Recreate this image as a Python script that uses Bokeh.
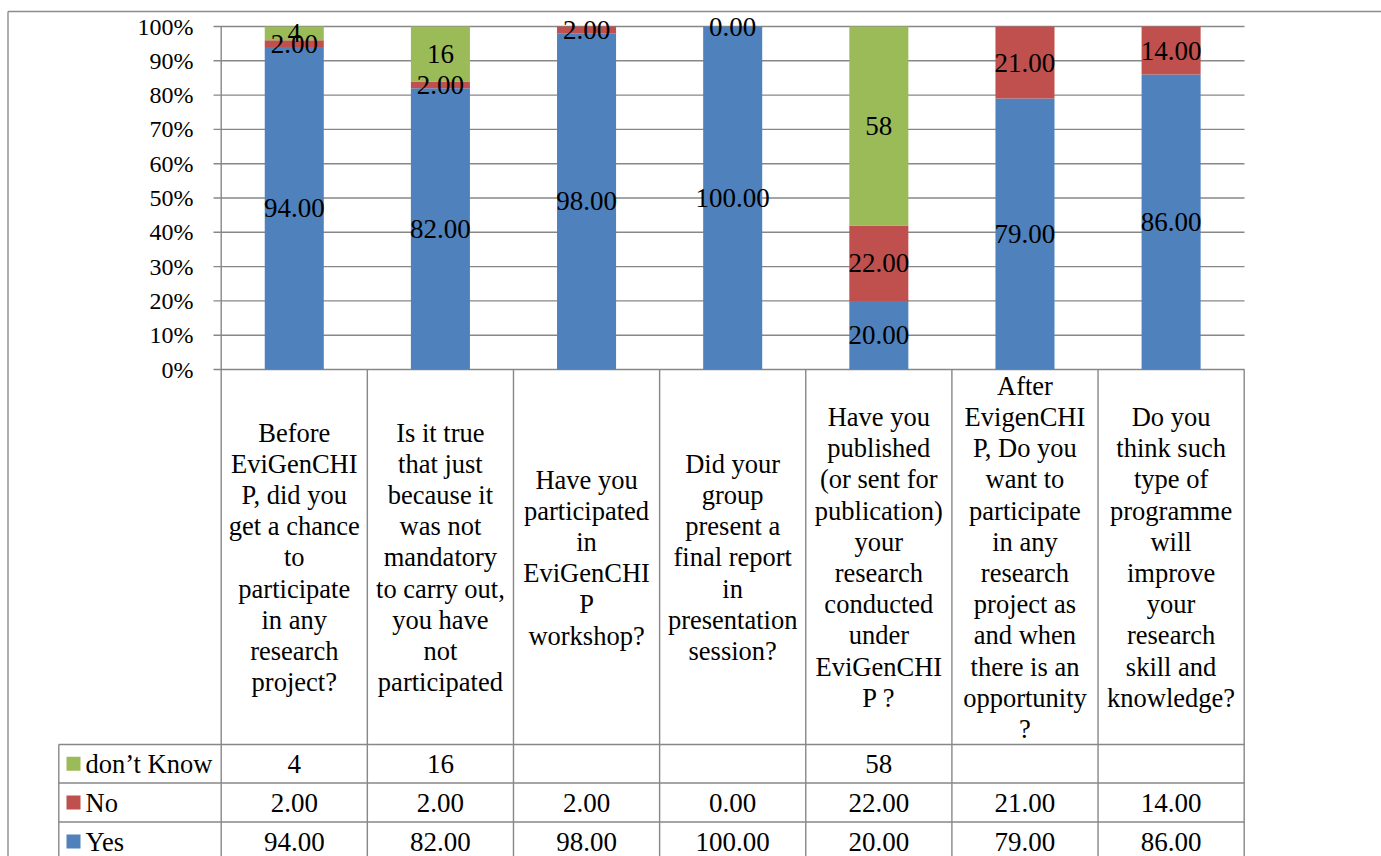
from bokeh.plotting import figure
from bokeh.models import Range1d, ColumnDataSource
from bokeh.core.properties import value
from bokeh.embed import file_html
from bokeh.resources import INLINE

# ---------------- data ----------------
categories = [
    "Before\nEviGenCHI\nP, did you\nget a chance\nto\nparticipate\nin any\nresearch\nproject?",
    "Is it true\nthat just\nbecause it\nwas not\nmandatory\nto carry out,\nyou have\nnot\nparticipated",
    "Have you\nparticipated\nin\nEviGenCHI\nP\nworkshop?",
    "Did your\ngroup\npresent a\nfinal report\nin\npresentation\nsession?",
    "Have you\npublished\n(or sent for\npublication)\nyour\nresearch\nconducted\nunder\nEviGenCHI\nP ?",
    "After\nEvigenCHI\nP, Do you\nwant to\nparticipate\nin any\nresearch\nproject as\nand when\nthere is an\nopportunity\n?",
    "Do you\nthink such\ntype of\nprogramme\nwill\nimprove\nyour\nresearch\nskill and\nknowledge?",
]
yes = [94.0, 82.0, 98.0, 100.0, 20.0, 79.0, 86.0]
no = [2.0, 2.0, 2.0, 0.0, 22.0, 21.0, 14.0]
dont_know = [4, 16, None, None, 58, None, None]
series_names = ["Yes", "No", "don\u2019t Know"]
colors = ["#4F81BD", "#C0504D", "#9BBB59"]
y_ticks = [0, 10, 20, 30, 40, 50, 60, 70, 80, 90, 100]
y_tick_labels = [f"{t}%" for t in y_ticks]

# ---------------- layout (pixels) ----------------
W, H = 1381, 856
PL = 220.7          # plot-area left (px)
CW = 146.14         # column width (px)
Y0 = 369.0          # 0% line (px)
PPU = 3.43          # px per percent
FONT = "Liberation Serif"
GRID = "#878787"

def xd(px):
    return (px - PL) / CW

def yd(py):
    return (Y0 - py) / PPU

p = figure(width=W, height=H, output_backend="svg", toolbar_location=None,
           x_range=Range1d(xd(0), xd(W)), y_range=Range1d(yd(H), yd(0)),
           min_border=0, min_border_left=0, min_border_right=0,
           min_border_top=0, min_border_bottom=0)
p.axis.visible = False
p.grid.visible = False
p.outline_line_color = None
p.background_fill_color = "white"
p.border_fill_color = "white"

n = len(categories)
centers = [i + 0.5 for i in range(n)]

# 100% stacked shares
dk_vals = [d if d is not None else 0 for d in dont_know]
totals = [y + q + d for y, q, d in zip(yes, no, dk_vals)]
yes_p = [v / t * 100 for v, t in zip(yes, totals)]
no_p = [v / t * 100 for v, t in zip(no, totals)]
dk_p = [v / t * 100 for v, t in zip(dk_vals, totals)]

# gridlines + tick marks
p.segment(x0=[xd(213)] * len(y_ticks), x1=[xd(1244)] * len(y_ticks),
          y0=y_ticks, y1=y_ticks, line_color=GRID, line_width=1.4)

# bars
src = ColumnDataSource(dict(x=centers, Yes=yes_p, No=no_p, DK=dk_p))
p.vbar_stack(["Yes", "No", "DK"], x="x", width=0.404, color=colors,
             line_color=None, source=src)

# data labels
lx, ly, lt = [], [], []
for i in range(n):
    lx.append(centers[i]); ly.append(yes_p[i] / 2); lt.append(f"{yes[i]:.2f}")
    lx.append(centers[i]); ly.append(yes_p[i] + no_p[i] / 2); lt.append(f"{no[i]:.2f}")
    if dont_know[i] is not None:
        lx.append(centers[i]); ly.append(yes_p[i] + no_p[i] + dk_p[i] / 2)
        lt.append(f"{dont_know[i]}")
p.text(x=lx, y=ly, text=lt, text_font=value(FONT), text_font_size="27px",
       text_align="center", text_baseline="middle", text_color="black")

# y tick labels
p.text(x=[xd(193)] * len(y_ticks), y=y_ticks, text=y_tick_labels,
       text_font=value(FONT), text_font_size="24px", text_align="right",
       text_baseline="middle", text_color="black")

# axis line (extends through table)
p.segment(x0=[0], x1=[0], y0=[100], y1=[yd(H)], line_color=GRID, line_width=1.4)

# table vertical lines
p.segment(x0=list(range(1, n + 1)), x1=list(range(1, n + 1)),
          y0=[0] * n, y1=[yd(H)] * n, line_color=GRID, line_width=1.4)
# legend column left border
p.segment(x0=[xd(58.3)], x1=[xd(58.3)], y0=[yd(744)], y1=[yd(H)],
          line_color=GRID, line_width=1.4)
# table horizontal lines
row_lines = [744, 782.5, 821.5]
p.segment(x0=[xd(58.3)] * 3, x1=[n] * 3, y0=[yd(r) for r in row_lines],
          y1=[yd(r) for r in row_lines], line_color=GRID, line_width=1.4)

# outer border
p.segment(x0=[xd(7.5), xd(7.5)], x1=[xd(7.5), xd(W)],
          y0=[yd(11), yd(11)], y1=[yd(H), yd(11)],
          line_color="#8C8C8C", line_width=1.4)

# category labels
p.text(x=centers, y=[yd(557)] * n, text=categories, text_font=value(FONT),
       text_font_size="26.5px", text_align="center", text_baseline="middle",
       text_line_height=1.04, text_color="black")

# table rows: don't know, No, Yes
row_centers = [763.2, 802, 841]
row_series = [dont_know, no, yes]
row_fmt = [lambda v: "" if v is None else f"{v}",
           lambda v: f"{v:.2f}", lambda v: f"{v:.2f}"]
row_names = [series_names[2], series_names[1], series_names[0]]
row_colors = [colors[2], colors[1], colors[0]]
tx, ty, tt = [], [], []
for r in range(3):
    for i in range(n):
        s = row_fmt[r](row_series[r][i])
        if s:
            tx.append(centers[i]); ty.append(yd(row_centers[r])); tt.append(s)
p.text(x=tx, y=ty, text=tt, text_font=value(FONT), text_font_size="27px",
       text_align="center", text_baseline="middle", text_color="black")

# legend keys inside the table
p.rect(x=[xd(73)] * 3, y=[yd(c) for c in row_centers],
       width=14 / CW, height=14 / PPU, fill_color=row_colors, line_color=None)
p.text(x=[xd(85)] * 3, y=[yd(c) for c in row_centers], text=row_names,
       text_font=value(FONT), text_font_size="26.5px", text_align="left",
       text_baseline="middle", text_color="black")

open("out.html", "w").write(file_html(p, INLINE))
